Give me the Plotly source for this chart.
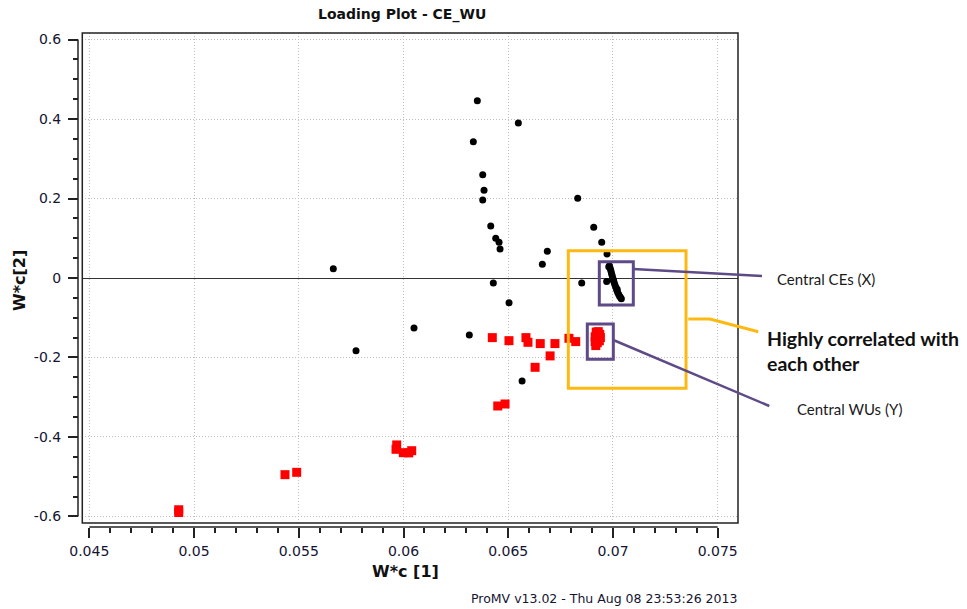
import plotly.graph_objects as go

# ---------------- loadings (W*c) on components 1 and 2 ----------------
# Central CEs (X variables)
ce_w1 = [0.063524, 0.065482, 0.063333, 0.063782, 0.063845, 0.063782, 0.068317,
         0.064165, 0.064403, 0.064561, 0.064609, 0.069081, 0.069463, 0.069716,
         0.066866, 0.066628, 0.056649, 0.064288, 0.068508, 0.065038, 0.060502,
         0.063142, 0.057733, 0.065661, 0.069700,
         0.06980, 0.06983, 0.06987, 0.06990, 0.06993, 0.06996, 0.06999, 0.07000,
         0.07003, 0.07006, 0.07010, 0.07014, 0.07018, 0.07020, 0.07022, 0.07027,
         0.07031, 0.07036, 0.07040]
ce_w2 = [0.446, 0.390, 0.343, 0.260, 0.221, 0.196, 0.2005,
         0.131, 0.0999, 0.0898, 0.073, 0.1276, 0.0898, 0.0604,
         0.0672, 0.0344, 0.0234, -0.0126, -0.0126, -0.0621, -0.1258,
         -0.1434, -0.1829, -0.259, -0.009,
         0.028, 0.031, 0.024, 0.018, 0.012, 0.006, 0.000, -0.004,
         -0.006, -0.012, -0.018, -0.024, -0.030, -0.028, -0.036, -0.041,
         -0.045, -0.049, -0.052]

# Central WUs (Y variables)
wu_w1 = [0.049268, 0.049268, 0.054343, 0.054901, 0.059676, 0.059643, 0.059991,
         0.060392, 0.060250, 0.064240, 0.065035, 0.065846, 0.065942, 0.066528,
         0.067230, 0.067898, 0.068222, 0.066998, 0.066283, 0.064499, 0.064848,
         0.06920, 0.06930, 0.06937, 0.06940, 0.06935, 0.06925, 0.06918, 0.06915,
         0.06915, 0.06922]
wu_w2 = [-0.583, -0.590, -0.4948, -0.4889, -0.420, -0.431, -0.4395,
         -0.4345, -0.440, -0.150, -0.1577, -0.150, -0.1618, -0.165,
         -0.165, -0.1517, -0.160, -0.196, -0.2247, -0.322, -0.317,
         -0.136, -0.135, -0.142, -0.150, -0.158, -0.163, -0.170, -0.160,
         -0.148, -0.152]

x_ticks = [0.045, 0.05, 0.055, 0.06, 0.065, 0.07, 0.075]
x_tick_text = ["0.045", "0.05", "0.055", "0.06", "0.065", "0.07", "0.075"]
y_ticks = [0.6, 0.4, 0.2, 0, -0.2, -0.4, -0.6]
y_tick_text = ["0.6", "0.4", "0.2", "0", "-0.2", "-0.4", "-0.6"]

# ---------------- page geometry ----------------
FIG_W, FIG_H = 967, 609
M_L, M_R, M_T, M_B = 78, 229, 33, 82
PLOT_W = FIG_W - M_L - M_R
PLOT_H = FIG_H - M_T - M_B


def px(x):
    """Horizontal page pixel -> paper fraction."""
    return (x - M_L) / PLOT_W


def py(y):
    """Vertical page pixel -> paper fraction."""
    return (FIG_H - M_B - y) / PLOT_H


X_DOM = [px(82.3), 1.0]
Y_DOM = [py(523), 1.0]
X_RANGE = [0.044666, 0.075969]
Y_RANGE = [-0.6164, 0.6164]


def xdata_to_paper(v):
    return X_DOM[0] + (v - X_RANGE[0]) / (X_RANGE[1] - X_RANGE[0]) * (X_DOM[1] - X_DOM[0])


def ydata_to_paper(v):
    return Y_DOM[0] + (v - Y_RANGE[0]) / (Y_RANGE[1] - Y_RANGE[0]) * (Y_DOM[1] - Y_DOM[0])


AXIS_COL = "#222222"
TICK_FONT = dict(family="DejaVu Sans", size=14, color="#141432")
GRID_COL = "#bdbdbd"
GRID_DASH = "1px,2px"
GOLD = "#FDB913"
PURPLE = "#5E4A86"

fig = go.Figure()

fig.add_trace(go.Scatter(
    x=ce_w1, y=ce_w2, mode="markers", name="CE",
    marker=dict(symbol="circle", size=7, color="black"),
))
fig.add_trace(go.Scatter(
    x=wu_w1, y=wu_w2, mode="markers", name="WU",
    marker=dict(symbol="square", size=9, color="#FF0000"),
))

shapes = [
    # plot frame
    dict(type="rect", xref="paper", yref="paper", x0=X_DOM[0], x1=1, y0=Y_DOM[0], y1=1,
         line=dict(color=AXIS_COL, width=1.5), layer="above"),
    # detached axis lines spanning the labelled range
    dict(type="line", xref="paper", yref="paper",
         x0=xdata_to_paper(x_ticks[0]), x1=xdata_to_paper(x_ticks[-1]), y0=0, y1=0,
         line=dict(color=AXIS_COL, width=1.5)),
    dict(type="line", xref="paper", yref="paper", x0=0, x1=0,
         y0=ydata_to_paper(y_ticks[-1]), y1=ydata_to_paper(y_ticks[0]),
         line=dict(color=AXIS_COL, width=1.5)),
    # highlight boxes
    dict(type="rect", xref="x", yref="y", x0=0.067868, x1=0.073488, y0=-0.2775, y1=0.0687,
         line=dict(color=GOLD, width=3)),
    dict(type="path", xref="paper", yref="paper",
         path=f"M{px(688.3)},{py(319)} L{px(710)},{py(319)} L{px(758.3)},{py(331.7)}",
         line=dict(color=GOLD, width=3)),
    dict(type="rect", xref="x", yref="y", x0=0.069348, x1=0.070971, y0=-0.0679, y1=0.041,
         line=dict(color=PURPLE, width=3)),
    dict(type="rect", xref="x", yref="y", x0=0.068775, x1=0.070017, y0=-0.2045, y1=-0.1157,
         line=dict(color=PURPLE, width=3)),
    dict(type="line", xref="paper", yref="paper",
         x0=px(633), y0=py(269), x1=px(762), y1=py(276),
         line=dict(color=PURPLE, width=2.5)),
    dict(type="line", xref="paper", yref="paper",
         x0=px(613.3), y0=py(340), x1=px(769.3), y1=py(406),
         line=dict(color=PURPLE, width=2.5)),
]

annotations = [
    dict(text="<b>Loading Plot - CE_WU</b>", xref="paper", yref="paper",
         x=px(402), y=py(15), showarrow=False, xanchor="center", yanchor="middle",
         font=dict(family="DejaVu Sans", size=14, color="#111111")),
    dict(text="<b>W*c [1]</b>", xref="paper", yref="paper",
         x=px(405), y=py(571), showarrow=False, xanchor="center", yanchor="middle",
         font=dict(family="DejaVu Sans", size=16, color="#111111")),
    dict(text="<b>W*c[2]</b>", xref="paper", yref="paper", textangle=-90,
         x=px(19), y=py(280), showarrow=False, xanchor="center", yanchor="middle",
         font=dict(family="DejaVu Sans", size=16, color="#111111")),
    dict(text="ProMV v13.02 - Thu Aug 08 23:53:26 2013", xref="paper", yref="paper",
         x=px(604), y=py(598), showarrow=False, xanchor="center", yanchor="middle",
         font=dict(family="DejaVu Sans", size=12.5, color="#141432")),
    dict(text="Central CEs (X)", xref="paper", yref="paper",
         x=px(775), y=py(279.3), showarrow=False, xanchor="left", yanchor="middle",
         font=dict(family="Lato", size=15, color="#1a1a1a")),
    dict(text="<b>Highly correlated with<br>each other</b>", xref="paper", yref="paper",
         x=px(765), y=py(350.5), showarrow=False, xanchor="left", yanchor="middle",
         align="left", font=dict(family="Lato", size=19.5, color="#111111")),
    dict(text="Central WUs (Y)", xref="paper", yref="paper",
         x=px(795), y=py(409.3), showarrow=False, xanchor="left", yanchor="middle",
         font=dict(family="Lato", size=15, color="#1a1a1a")),
]

fig.update_layout(
    width=FIG_W, height=FIG_H,
    margin=dict(l=M_L, r=M_R, t=M_T, b=M_B, pad=0),
    paper_bgcolor="white", plot_bgcolor="white",
    showlegend=False,
    shapes=shapes,
    annotations=annotations,
    xaxis=dict(
        domain=X_DOM, anchor="free", position=0, range=X_RANGE,
        tickmode="array", tickvals=x_ticks, ticktext=x_tick_text,
        ticks="outside", ticklen=10, tickwidth=1.5, tickcolor=AXIS_COL,
        tickfont=TICK_FONT, ticklabelstandoff=1,
        minor=dict(tick0=0.045, dtick=0.001, ticks="outside", ticklen=5,
                   tickwidth=1.5, tickcolor=AXIS_COL, showgrid=False),
        showgrid=True, gridcolor=GRID_COL, gridwidth=1, griddash=GRID_DASH,
        zeroline=False, showline=False,
    ),
    yaxis=dict(
        domain=Y_DOM, anchor="free", position=0, range=Y_RANGE,
        tickmode="array", tickvals=y_ticks, ticktext=y_tick_text,
        ticks="outside", ticklen=10, tickwidth=1.5, tickcolor=AXIS_COL,
        tickfont=TICK_FONT, ticklabelstandoff=4,
        minor=dict(tick0=0, dtick=0.05, ticks="outside", ticklen=5,
                   tickwidth=1.5, tickcolor=AXIS_COL, showgrid=False),
        showgrid=True, gridcolor=GRID_COL, gridwidth=1, griddash=GRID_DASH,
        zeroline=True, zerolinecolor="#333333", zerolinewidth=1, showline=False,
    ),
)

fig.write_html("out.html")
